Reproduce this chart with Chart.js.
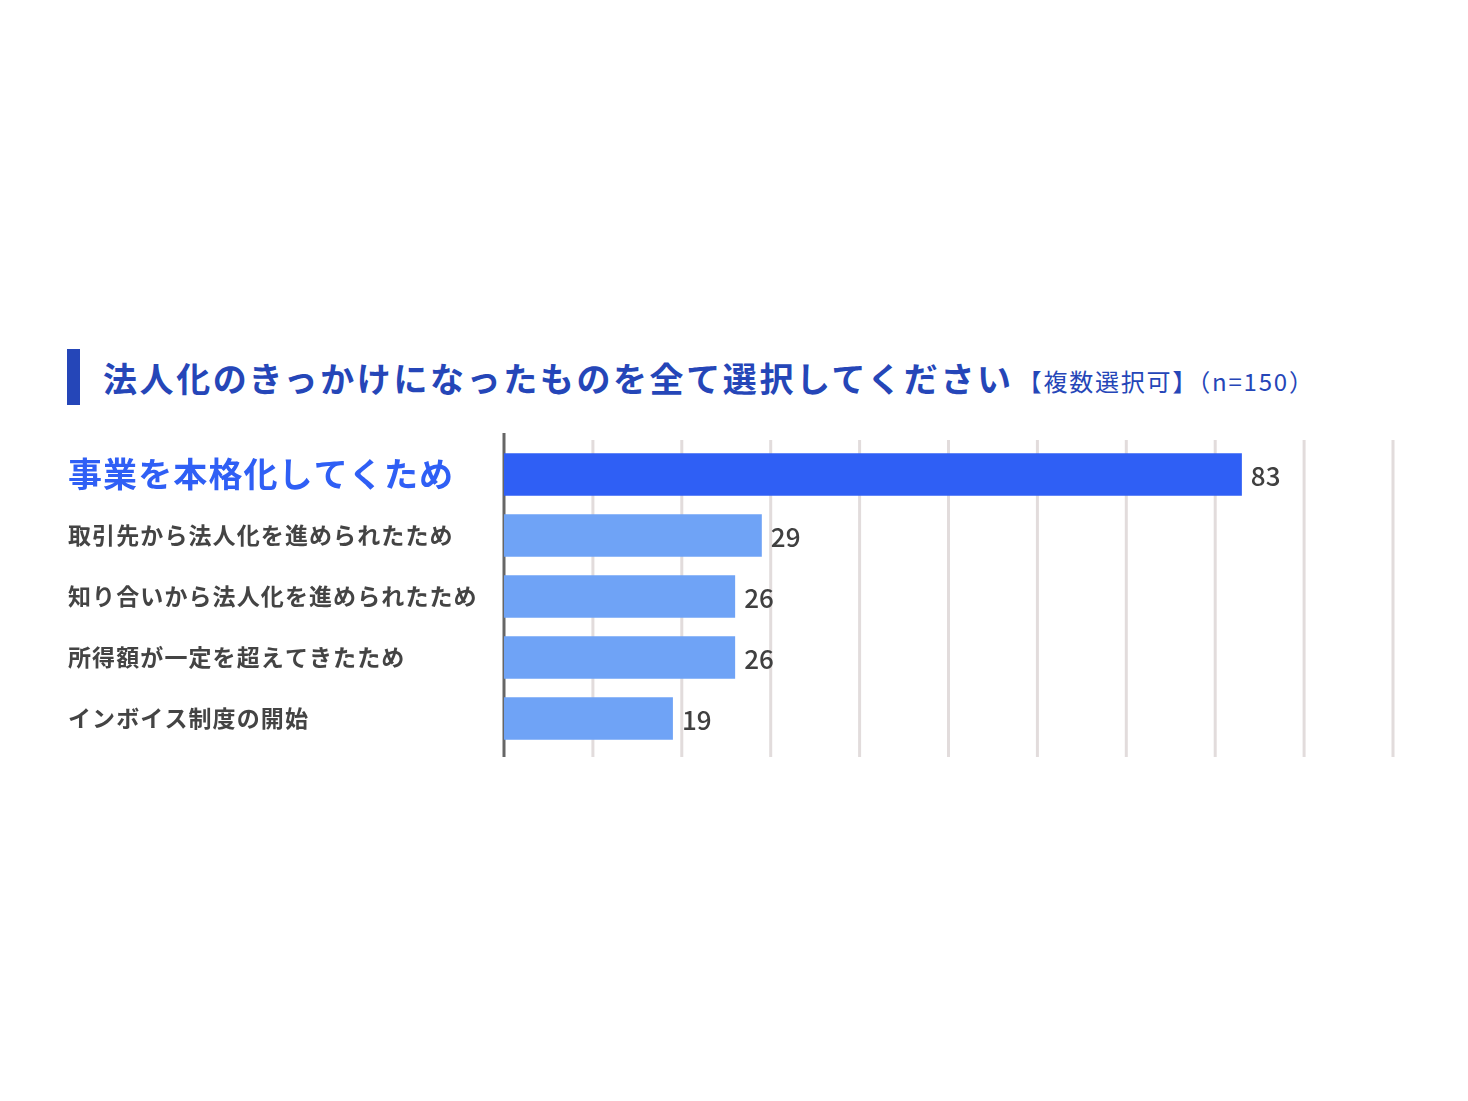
<!DOCTYPE html>
<html>
<head>
<meta charset="utf-8">
<script src="https://cdn.jsdelivr.net/npm/chart.js@4"></script>
<style>
  body { margin: 0; background: #fff; }
  #wrap { position: relative; width: 1468px; height: 1101px; }
  #title { position: absolute; left: 67px; top: 349px; height: 56px; display: flex; align-items: center;
           font-family: "Noto Sans CJK JP", sans-serif; color: #2546b8; white-space: nowrap; }
  #title .mark { width: 13px; height: 56px; background: #2546b8; margin-right: 23px; }
  #title .main { font-size: 34px; font-weight: bold; letter-spacing: 2.6px; }
  #title .sub { font-size: 24px; margin-left: 4px; padding-top: 6px; letter-spacing: 1.8px; }
  canvas { position: absolute; left: 0; top: 0; }
</style>
</head>
<body>
<div id="wrap">
  <div id="title"><div class="mark"></div><span class="main">法人化のきっかけになったものを全て選択してください</span><span class="sub">【複数選択可】（n=150）</span></div>
  <canvas id="myChart" width="1468" height="1101"></canvas>
</div>
<script>
// 回答項目と件数
const reasons = [
  '事業を本格化してくため',
  '取引先から法人化を進められたため',
  '知り合いから法人化を進められたため',
  '所得額が一定を超えてきたため',
  'インボイス制度の開始'
];
const counts = [83, 29, 26, 26, 19];
const barColors = ['#2f5ff5', '#6fa3f6', '#6fa3f6', '#6fa3f6', '#6fa3f6'];
const axisMax = 100;
const axisStep = 10;

const font = '"Noto Sans CJK JP", sans-serif';

// 項目名の字間を少し広げる
const spacing = {
  id: 'spacing',
  beforeDraw(chart) { chart.ctx.letterSpacing = '1.1px'; }
};

// 縦の目盛り線（少し上下にはみ出す）
const gridLines = {
  id: 'gridLines',
  beforeDatasetsDraw(chart) {
    const { ctx, chartArea } = chart;
    const x = chart.scales.x;
    ctx.save();
    x.ticks.forEach(t => {
      const px = x.getPixelForValue(t.value);
      ctx.beginPath();
      if (t.value === 0) {
        ctx.strokeStyle = '#666666';
        ctx.moveTo(px, chartArea.top - 11);
      } else {
        ctx.strokeStyle = '#e2dcdc';
        ctx.moveTo(px, chartArea.top - 4);
      }
      ctx.lineWidth = 3;
      ctx.lineTo(px, chartArea.bottom + 8);
      ctx.stroke();
    });
    ctx.restore();
  }
};

// 棒の右に件数
const valueLabels = {
  id: 'valueLabels',
  afterDatasetsDraw(chart) {
    const { ctx } = chart;
    const meta = chart.getDatasetMeta(0);
    ctx.save();
    ctx.letterSpacing = '0px';
    ctx.font = '500 26px ' + font;
    ctx.fillStyle = '#404040';
    ctx.textBaseline = 'middle';
    meta.data.forEach((bar, i) => {
      ctx.fillText(String(counts[i]), bar.x + 9, bar.y + 2);
    });
    ctx.restore();
  }
};

const ctx = document.getElementById('myChart').getContext('2d');
new Chart(ctx, {
  type: 'bar',
  data: {
    labels: reasons,
    datasets: [{
      data: counts,
      backgroundColor: barColors,
      borderWidth: 0,
      categoryPercentage: 0.7,
      barPercentage: 1.0
    }]
  },
  options: {
    indexAxis: 'y',
    responsive: false,
    animation: false,
    layout: { padding: { left: 68, top: 444, right: 75, bottom: 352 } },
    plugins: { legend: { display: false }, tooltip: { enabled: false } },
    scales: {
      x: {
        min: 0,
        max: axisMax,
        ticks: { stepSize: axisStep, display: false },
        grid: { display: false },
        border: { display: false },
        afterFit(scale) { scale.height = 0; }
      },
      y: {
        grid: { display: false },
        border: { display: false },
        ticks: {
          crossAlign: 'far',
          padding: 0,
          color: c => c.index === 0 ? '#2f5ff5' : '#444444',
          font: c => c.index === 0
            ? { family: font, size: 34, weight: 'bold' }
            : { family: font, size: 23, weight: 'bold' }
        },
        afterFit(scale) { scale.width = 436; }
      }
    }
  },
  plugins: [spacing, gridLines, valueLabels]
});
</script>
</body>
</html>
